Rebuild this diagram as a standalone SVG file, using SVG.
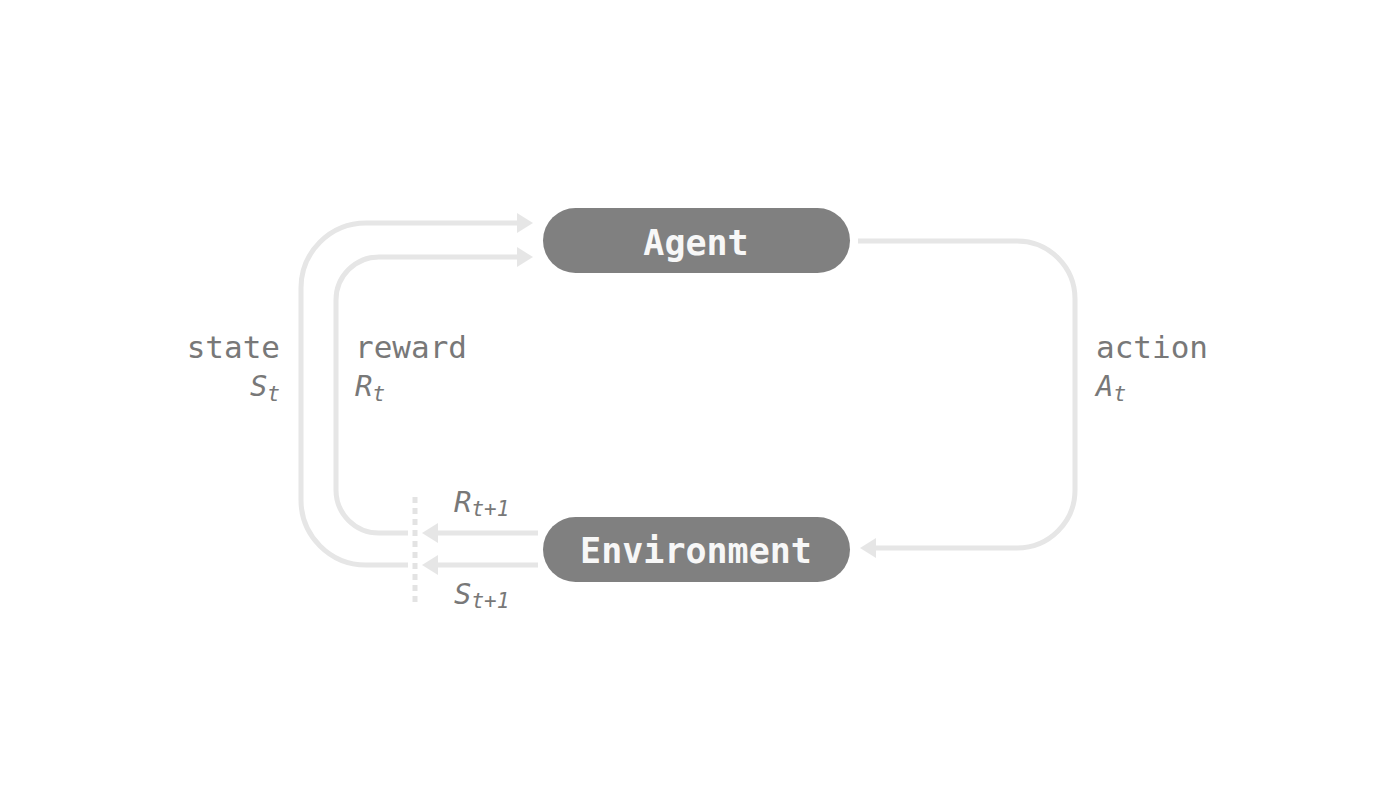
<svg xmlns="http://www.w3.org/2000/svg" width="1400" height="787" viewBox="0 0 1400 787">
<style>
.bg{fill:#ffffff}
.pill{fill:#808080}
.ptxt{font-family:"DejaVu Sans Mono","Liberation Mono",monospace;font-weight:bold;font-size:35px;fill:#f7f7f7;text-anchor:middle}
.lbl{font-family:"DejaVu Sans Mono","Liberation Mono",monospace;font-size:31px;fill:#787878}
.var{font-family:"DejaVu Sans Mono","Liberation Mono",monospace;font-style:italic;font-size:29px;fill:#787878}
.sub{font-size:21px}
.wire{fill:none;stroke:#e6e6e6;stroke-width:5}
.dots{fill:none;stroke:#e3e3e3;stroke-width:5;stroke-dasharray:6 5}
</style>
<defs>
<marker id="ah" viewBox="0 0 16 20" refX="2" refY="10" markerWidth="16" markerHeight="20" markerUnits="userSpaceOnUse" orient="auto">
<path d="M0,0 L16,10 L0,20 z" fill="#e6e6e6"/>
</marker>
</defs>
<rect class="bg" x="0" y="0" width="1400" height="787"/>
<g id="connectors">
<path id="action" class="wire" d="M858,241 H1017 A58,58 0 0 1 1075,299 V490 A58,58 0 0 1 1017,548 H874" marker-end="url(#ah)"/>
<path id="state" class="wire" d="M408,565 H366 A65,65 0 0 1 301,500 V288 A65,65 0 0 1 366,223 H519" marker-end="url(#ah)"/>
<path id="reward" class="wire" d="M408,533 H379 A43,43 0 0 1 336,490 V300 A43,43 0 0 1 379,257 H519" marker-end="url(#ah)"/>
<path id="r-next" class="wire" d="M538,533 H436" marker-end="url(#ah)"/>
<path id="s-next" class="wire" d="M538,565 H436" marker-end="url(#ah)"/>
<path id="timestep" class="dots" d="M415,497 V602"/>
</g>
<g id="agent">
<rect class="pill" x="543" y="208" width="307" height="65" rx="32.5"/>
<text class="ptxt" x="696" y="255">Agent</text>
</g>
<g id="environment">
<rect class="pill" x="543" y="517" width="307" height="65" rx="32.5"/>
<text class="ptxt" x="696" y="563">Environment</text>
</g>
<g id="labels">
<text class="lbl" x="280" y="358" text-anchor="end">state</text>
<text class="var" x="280" y="396" text-anchor="end">S<tspan class="sub" dy="5">t</tspan></text>
<text class="lbl" x="355" y="358">reward</text>
<text class="var" x="355" y="396">R<tspan class="sub" dy="5">t</tspan></text>
<text class="lbl" x="1096" y="358">action</text>
<text class="var" x="1096" y="396">A<tspan class="sub" dy="5">t</tspan></text>
<text class="var" x="454" y="512">R<tspan class="sub" dy="4">t+1</tspan></text>
<text class="var" x="454" y="604">S<tspan class="sub" dy="4">t+1</tspan></text>
</g>
</svg>
